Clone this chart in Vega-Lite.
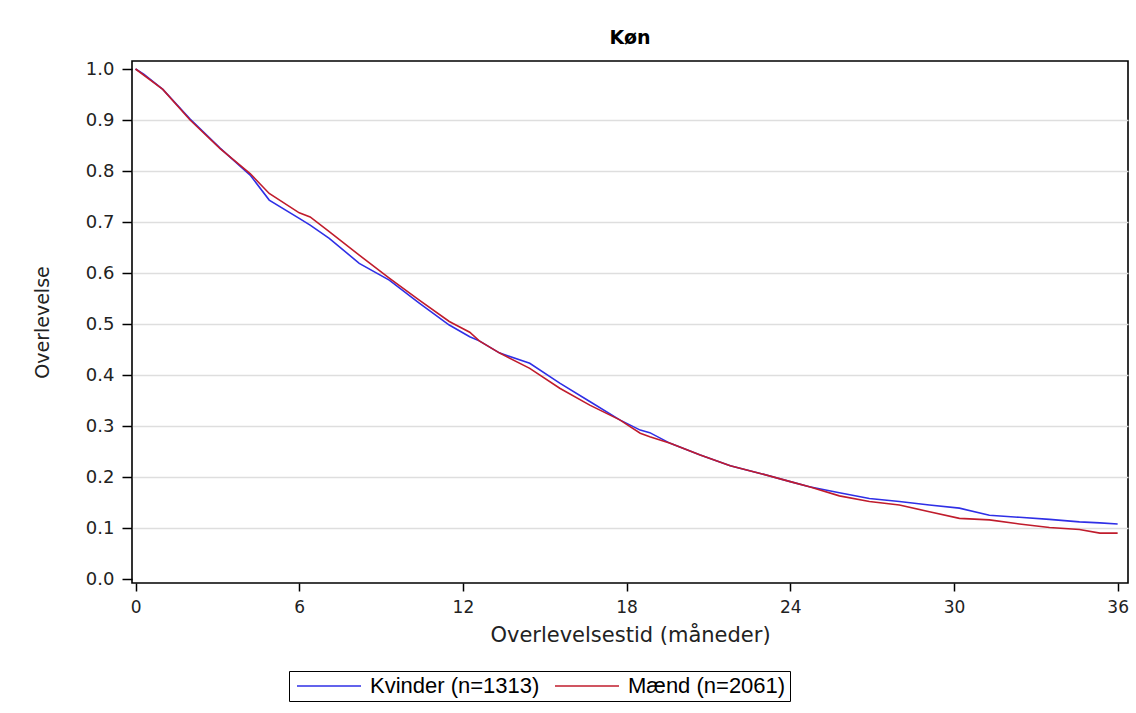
{
  "$schema": "https://vega.github.io/schema/vega-lite/v6.json",
  "width": 996,
  "height": 522,
  "autosize": "none",
  "padding": {"left": 132, "top": 61, "right": 8, "bottom": 130},
  "background": "white",
  "title": {"text": "Køn", "anchor": "middle", "font": "DejaVu Sans", "fontSize": 19, "fontWeight": "bold", "color": "#000", "offset": 12},
  "datasets": {
    "km": [
      {"group": "Kvinder (n=1313)", "t": 0, "s": 1.0},
      {"group": "Kvinder (n=1313)", "t": 0.3, "s": 0.99},
      {"group": "Kvinder (n=1313)", "t": 1.0, "s": 0.960},
      {"group": "Kvinder (n=1313)", "t": 2.0, "s": 0.902},
      {"group": "Kvinder (n=1313)", "t": 3.1, "s": 0.845},
      {"group": "Kvinder (n=1313)", "t": 4.2, "s": 0.792},
      {"group": "Kvinder (n=1313)", "t": 4.9, "s": 0.743},
      {"group": "Kvinder (n=1313)", "t": 6.0, "s": 0.707},
      {"group": "Kvinder (n=1313)", "t": 6.4, "s": 0.694},
      {"group": "Kvinder (n=1313)", "t": 7.1, "s": 0.668},
      {"group": "Kvinder (n=1313)", "t": 8.2, "s": 0.619},
      {"group": "Kvinder (n=1313)", "t": 9.3, "s": 0.586},
      {"group": "Kvinder (n=1313)", "t": 10.4, "s": 0.541},
      {"group": "Kvinder (n=1313)", "t": 11.5, "s": 0.498},
      {"group": "Kvinder (n=1313)", "t": 12.25, "s": 0.475},
      {"group": "Kvinder (n=1313)", "t": 12.6, "s": 0.467},
      {"group": "Kvinder (n=1313)", "t": 13.35, "s": 0.443},
      {"group": "Kvinder (n=1313)", "t": 14.45, "s": 0.423},
      {"group": "Kvinder (n=1313)", "t": 15.55, "s": 0.384},
      {"group": "Kvinder (n=1313)", "t": 16.65, "s": 0.348},
      {"group": "Kvinder (n=1313)", "t": 17.75, "s": 0.312},
      {"group": "Kvinder (n=1313)", "t": 18.5, "s": 0.292},
      {"group": "Kvinder (n=1313)", "t": 18.85, "s": 0.287},
      {"group": "Kvinder (n=1313)", "t": 19.6, "s": 0.266},
      {"group": "Kvinder (n=1313)", "t": 20.7, "s": 0.243},
      {"group": "Kvinder (n=1313)", "t": 21.8, "s": 0.222},
      {"group": "Kvinder (n=1313)", "t": 22.9, "s": 0.207},
      {"group": "Kvinder (n=1313)", "t": 24.0, "s": 0.191},
      {"group": "Kvinder (n=1313)", "t": 24.7, "s": 0.181},
      {"group": "Kvinder (n=1313)", "t": 25.8, "s": 0.169},
      {"group": "Kvinder (n=1313)", "t": 26.9, "s": 0.158},
      {"group": "Kvinder (n=1313)", "t": 28.0, "s": 0.152},
      {"group": "Kvinder (n=1313)", "t": 29.1, "s": 0.145},
      {"group": "Kvinder (n=1313)", "t": 30.2, "s": 0.139},
      {"group": "Kvinder (n=1313)", "t": 31.3, "s": 0.125},
      {"group": "Kvinder (n=1313)", "t": 32.4, "s": 0.121},
      {"group": "Kvinder (n=1313)", "t": 33.5, "s": 0.117},
      {"group": "Kvinder (n=1313)", "t": 34.6, "s": 0.112},
      {"group": "Kvinder (n=1313)", "t": 35.35, "s": 0.110},
      {"group": "Kvinder (n=1313)", "t": 36.0, "s": 0.108},
      {"group": "Mænd (n=2061)", "t": 0, "s": 1.0},
      {"group": "Mænd (n=2061)", "t": 1.0, "s": 0.960},
      {"group": "Mænd (n=2061)", "t": 2.0, "s": 0.900},
      {"group": "Mænd (n=2061)", "t": 3.1, "s": 0.844},
      {"group": "Mænd (n=2061)", "t": 4.2, "s": 0.795},
      {"group": "Mænd (n=2061)", "t": 4.9, "s": 0.756},
      {"group": "Mænd (n=2061)", "t": 6.0, "s": 0.718},
      {"group": "Mænd (n=2061)", "t": 6.4, "s": 0.710},
      {"group": "Mænd (n=2061)", "t": 7.1, "s": 0.681},
      {"group": "Mænd (n=2061)", "t": 8.2, "s": 0.635},
      {"group": "Mænd (n=2061)", "t": 9.3, "s": 0.590},
      {"group": "Mænd (n=2061)", "t": 10.4, "s": 0.547},
      {"group": "Mænd (n=2061)", "t": 11.5, "s": 0.505},
      {"group": "Mænd (n=2061)", "t": 12.25, "s": 0.484},
      {"group": "Mænd (n=2061)", "t": 12.6, "s": 0.467},
      {"group": "Mænd (n=2061)", "t": 13.35, "s": 0.443},
      {"group": "Mænd (n=2061)", "t": 14.45, "s": 0.413},
      {"group": "Mænd (n=2061)", "t": 15.55, "s": 0.374},
      {"group": "Mænd (n=2061)", "t": 16.65, "s": 0.341},
      {"group": "Mænd (n=2061)", "t": 17.75, "s": 0.312},
      {"group": "Mænd (n=2061)", "t": 18.5, "s": 0.286},
      {"group": "Mænd (n=2061)", "t": 18.85, "s": 0.279},
      {"group": "Mænd (n=2061)", "t": 19.6, "s": 0.266},
      {"group": "Mænd (n=2061)", "t": 20.7, "s": 0.243},
      {"group": "Mænd (n=2061)", "t": 21.8, "s": 0.222},
      {"group": "Mænd (n=2061)", "t": 22.9, "s": 0.207},
      {"group": "Mænd (n=2061)", "t": 24.0, "s": 0.191},
      {"group": "Mænd (n=2061)", "t": 24.7, "s": 0.181},
      {"group": "Mænd (n=2061)", "t": 25.8, "s": 0.163},
      {"group": "Mænd (n=2061)", "t": 26.9, "s": 0.152},
      {"group": "Mænd (n=2061)", "t": 28.0, "s": 0.145},
      {"group": "Mænd (n=2061)", "t": 29.1, "s": 0.132},
      {"group": "Mænd (n=2061)", "t": 30.2, "s": 0.119},
      {"group": "Mænd (n=2061)", "t": 31.3, "s": 0.116},
      {"group": "Mænd (n=2061)", "t": 32.4, "s": 0.108},
      {"group": "Mænd (n=2061)", "t": 33.5, "s": 0.101},
      {"group": "Mænd (n=2061)", "t": 34.6, "s": 0.097},
      {"group": "Mænd (n=2061)", "t": 35.35, "s": 0.090},
      {"group": "Mænd (n=2061)", "t": 36.0, "s": 0.090}
    ]
  },
  "data": {"name": "km"},
  "mark": {"type": "line", "strokeWidth": 1.6, "interpolate": "linear", "clip": true},
  "encoding": {
    "x": {
      "field": "t", "type": "quantitative",
      "scale": {"domain": [-0.13, 36.38], "nice": false, "zero": false},
      "axis": {
        "title": "Overlevelsestid (måneder)",
        "values": [0, 6, 12, 18, 24, 30, 36],
        "format": "d",
        "grid": false,
        "domain": false,
        "tickSize": 8, "tickColor": "#000", "tickWidth": 1.5,
        "labelFont": "DejaVu Sans", "labelFontSize": 17, "labelColor": "#222", "labelPadding": 8,
        "titleFont": "DejaVu Sans", "titleFontSize": 21, "titleFontWeight": "normal", "titleColor": "#222",
        "titleBaseline": "middle", "titleY": 52
      }
    },
    "y": {
      "field": "s", "type": "quantitative",
      "scale": {"domain": [-0.0078, 1.0157], "nice": false, "zero": false},
      "axis": {
        "title": "Overlevelse",
        "values": [0, 0.1, 0.2, 0.3, 0.4, 0.5, 0.6, 0.7, 0.8, 0.9, 1.0],
        "format": ".1f",
        "grid": true,
        "gridColor": "#dedede", "gridWidth": 1.5,
        "gridOpacity": {"condition": {"test": "datum.value == 0 || datum.value == 1", "value": 0}, "value": 1},
        "domain": false,
        "tickSize": 10, "tickColor": "#000", "tickWidth": 1.5,
        "labelFont": "DejaVu Sans", "labelFontSize": 18, "labelColor": "#222", "labelPadding": 8,
        "titleFont": "DejaVu Sans", "titleFontSize": 19, "titleFontWeight": "normal", "titleColor": "#222",
        "titleAngle": -90, "titleAlign": "center", "titleBaseline": "middle", "titleX": -90, "titleY": 261
      }
    },
    "color": {
      "field": "group", "type": "nominal",
      "scale": {"domain": ["Kvinder (n=1313)", "Mænd (n=2061)"], "range": ["#2f2fe6", "#c01c2c"]},
      "legend": {
        "title": null,
        "orient": "none",
        "legendX": 157,
        "legendY": 610,
        "direction": "horizontal",
        "columns": 2,
        "symbolType": "M-3.2,0H3.2",
        "symbolSize": 400,
        "symbolStrokeWidth": 1.5,
        "symbolOffset": 25,
        "labelFont": "Liberation Sans",
        "labelFontSize": 22,
        "labelColor": "#000",
        "labelOffset": 30,
        "columnPadding": 11,
        "padding": 4,
        "strokeColor": "#000",
        "labelLimit": 400
      }
    }
  },
  "config": {
    "view": {"stroke": "#000", "strokeWidth": 1.6}
  }
}
